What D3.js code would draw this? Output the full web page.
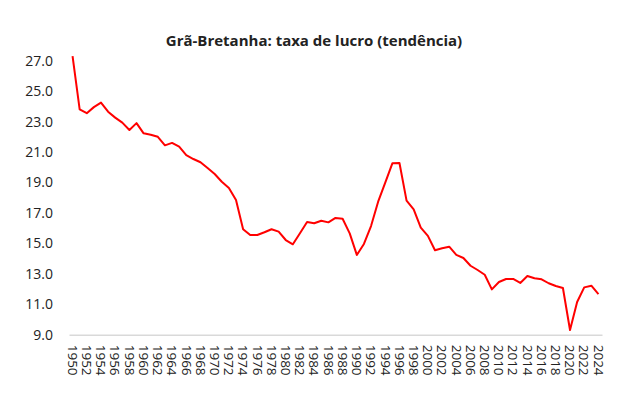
<!DOCTYPE html>
<html>
<head>
<meta charset="utf-8">
<script src="https://cdn.jsdelivr.net/npm/d3@7"></script>
<style>
  body { margin: 0; background: #fff; }
  text { font-family: "Open Sans", "Liberation Sans", sans-serif; fill: #222; }
</style>
</head>
<body>
<svg id="chart" width="627" height="394"></svg>
<script>
// anos 1950..2024
var years = d3.range(1950, 2025);
// taxa de lucro (tendência)
var rates = [
  27.3, 23.8, 23.55, 23.95, 24.25, 23.65, 23.26, 22.93, 22.45, 22.9,
  22.23, 22.14, 22.0, 21.44, 21.6, 21.35, 20.79, 20.54, 20.33, 19.95,
  19.56, 19.05, 18.64, 17.85, 15.93, 15.55, 15.55, 15.73, 15.93, 15.77,
  15.22, 14.94, 15.66, 16.4, 16.32, 16.49, 16.38, 16.67, 16.62, 15.66,
  14.24, 14.96, 16.14, 17.74, 18.99, 20.26, 20.28, 17.81, 17.24, 16.03,
  15.49, 14.55, 14.68, 14.78, 14.24, 14.04, 13.53, 13.25, 12.94, 11.98,
  12.46, 12.66, 12.66, 12.4, 12.86, 12.71, 12.64, 12.38, 12.2, 12.07,
  9.31, 11.15, 12.11, 12.22, 11.67
];
var yTicks = [9, 11, 13, 15, 17, 19, 21, 23, 25, 27];
var title = "Grã-Bretanha: taxa de lucro (tendência)";

var svg = d3.select("#chart");
var m = { left: 69, right: 602, top: 60.7, bottom: 334.7 };

var x = d3.scaleBand().domain(years).range([m.left, m.right]).padding(0);
var y = d3.scaleLinear().domain([9, 27]).range([m.bottom, m.top]);

svg.append("text")
  .attr("x", 314).attr("y", 46)
  .attr("text-anchor", "middle")
  .style("font-size", "15px").style("font-weight", "bold")
  .text(title);

// eixo y (só rótulos)
var yAxis = svg.append("g").attr("transform", "translate(" + m.left + ",0)")
  .call(d3.axisLeft(y).tickValues(yTicks).tickFormat(d3.format(".1f")).tickSize(0).tickPadding(16));
yAxis.select(".domain").remove();
yAxis.selectAll("text").style("font-size", "14px").attr("fill", "#222");

// eixo x
var xAxis = svg.append("g").attr("transform", "translate(0," + m.bottom + ")")
  .call(d3.axisBottom(x).tickValues(years.filter(function(d){ return d % 2 === 0; })).tickSize(0));
xAxis.select(".domain").attr("stroke", "#d9d9d9").attr("stroke-width", 1.5);
xAxis.selectAll("text")
  .style("font-size", "13.5px").attr("fill", "#222")
  .attr("text-anchor", "start")
  .attr("dy", "0.35em")
  .attr("transform", "translate(0,10) rotate(90)")
  .attr("x", 0).attr("y", 0);

var line = d3.line()
  .x(function(d, i){ return x(years[i]) + x.bandwidth() / 2; })
  .y(function(d){ return y(d); });

svg.append("path")
  .datum(rates)
  .attr("fill", "none")
  .attr("stroke", "#ff0000")
  .attr("stroke-width", 2)
  .attr("stroke-linejoin", "round")
  .attr("d", line);
</script>
</body>
</html>
